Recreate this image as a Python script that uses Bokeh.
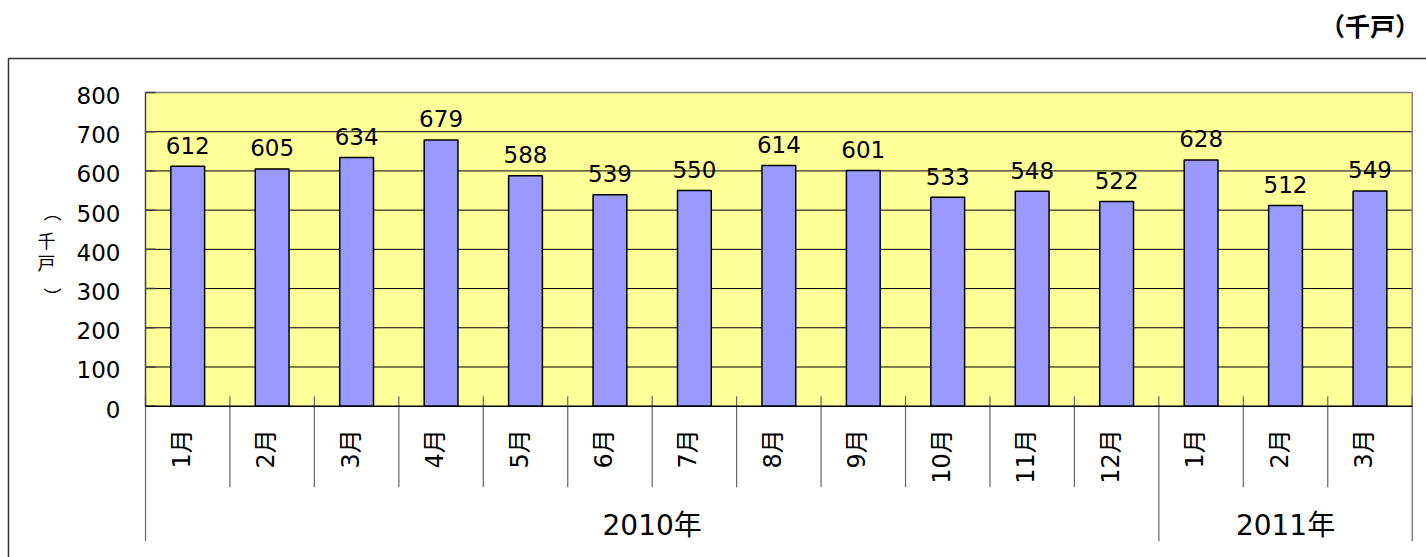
import math
from bokeh.plotting import figure
from bokeh.models import Range1d
from bokeh.core.properties import value
from bokeh.embed import file_html
from bokeh.resources import INLINE

# ---- data ----
months = ["1月", "2月", "3月", "4月", "5月", "6月", "7月", "8月", "9月",
          "10月", "11月", "12月", "1月", "2月", "3月"]
values = [612, 605, 634, 679, 588, 539, 550, 614, 601, 533, 548, 522, 628, 512, 549]
years = ["2010年", "2011年"]
year_counts = [12, 3]
y_ticks = [0, 100, 200, 300, 400, 500, 600, 700, 800]
unit_label = "（千戸）"
axis_title_chars = ["（", "千", "戸", "）"]

# ---- layout (pixels) ----
W, H = 1426, 557
PL, PR = 145.0, 1411.7
PT, PB = 92.0, 405.7
YMAX = y_ticks[-1]
n = len(months)
SX = (PR - PL) / n
SY = (PB - PT) / YMAX
xs0 = -PL / SX
xs1 = (W - PL) / SX
ys1 = PB / SY
ys0 = -(H - PB) / SY


def X(px):
    return xs0 + px / SX


def Y(py):
    return ys1 - py / SY


NUM_FONT = value("DejaVu Sans, Noto Sans CJK JP")
CJK_FONT = value("Noto Sans CJK JP")

p = figure(width=W, height=H, x_range=Range1d(xs0, xs1), y_range=Range1d(ys0, ys1),
           output_backend="svg", toolbar_location=None,
           x_axis_location=None, y_axis_location=None, min_border=0,
           outline_line_color=None, background_fill_color="white",
           border_fill_color="white")
p.grid.visible = False

# plot area background
p.quad(left=[0], right=[n], bottom=[0], top=[YMAX], fill_color="#FFFF99", line_color=None)

# grid lines
inner = y_ticks[1:-1]
p.segment(x0=[0] * len(inner), y0=inner, x1=[n] * len(inner), y1=inner,
          line_color="black", line_width=1)
# top/right border of the plot area
p.line(x=[0, n, n], y=[YMAX, YMAX, 0], line_color="#808080", line_width=1.5)
# tick marks (inside)
p.segment(x0=[0] * len(y_ticks), y0=y_ticks, x1=[10 / SX] * len(y_ticks), y1=y_ticks,
          line_color="#404040", line_width=1.5)

# category separators
cum = [0]
for c in year_counts:
    cum.append(cum[-1] + c)
month_b = [b for b in range(n + 1) if b not in cum]
ytop = 10 / SY
p.segment(x0=month_b, y0=[ytop] * len(month_b), x1=month_b,
          y1=[Y(486.7)] * len(month_b), line_color="#666666", line_width=1.2)
p.segment(x0=cum, y0=[ytop] * len(cum), x1=cum,
          y1=[Y(540.7)] * len(cum), line_color="#666666", line_width=1.2)

# bars
centers = [i + 0.5 for i in range(n)]
p.vbar(x=centers, width=0.4, bottom=0, top=values, fill_color="#9999FF",
       line_color="black", line_width=1.5)

# axis lines
p.segment(x0=[0], y0=[0], x1=[0], y1=[YMAX], line_color="#404040", line_width=1.5)
p.segment(x0=[0], y0=[0], x1=[n], y1=[0], line_color="black", line_width=1.5)

# bar value labels
p.text(x=centers, y=values, text=[str(v) for v in values], text_align="center",
       text_baseline="alphabetic", y_offset=-21, text_font=NUM_FONT,
       text_font_size="23px", text_color="black")

# y tick labels
p.text(x=[0] * len(y_ticks), y=y_ticks, text=[str(t) for t in y_ticks],
       x_offset=-25, y_offset=3, text_align="right", text_baseline="middle",
       text_font=NUM_FONT, text_font_size="23px", text_color="black")

# month labels (rotated)
p.text(x=centers, y=[0] * n, text=months, angle=math.pi / 2, text_align="right",
       text_baseline="middle", x_offset=-6, y_offset=23, text_font=NUM_FONT,
       text_font_size="24px", text_color="black")

# year labels
year_centers = [(cum[i] + cum[i + 1]) / 2 for i in range(len(years))]
p.text(x=year_centers, y=[0] * len(years), text=years, text_align="center",
       text_baseline="middle", y_offset=119, text_font=NUM_FONT,
       text_font_size="28px", text_color="black")

# outer frame
p.line(x=[X(8), X(8), X(W)], y=[Y(H), Y(58), Y(58)], line_color="#333333",
       line_width=1.5)

# unit label top-right
p.text(x=[X(1369.5)], y=[Y(24)], text=[unit_label], text_align="center",
       text_baseline="middle", text_font=CJK_FONT, text_font_style="bold",
       text_font_size="25px", text_color="black")

# y-axis title, vertical: parentheses turned, characters upright
tx = [X(53), X(46), X(46), X(53)]
ty = [Y(212), Y(239.5), Y(261.5), Y(296)]
ang = [-math.pi / 2, 0, 0, -math.pi / 2]
p.text(x=tx, y=ty, text=axis_title_chars, angle=ang, text_align="center",
       text_baseline="middle", text_font=CJK_FONT, text_font_size="18px",
       text_color="black")

open("out.html", "w").write(file_html(p, INLINE))
